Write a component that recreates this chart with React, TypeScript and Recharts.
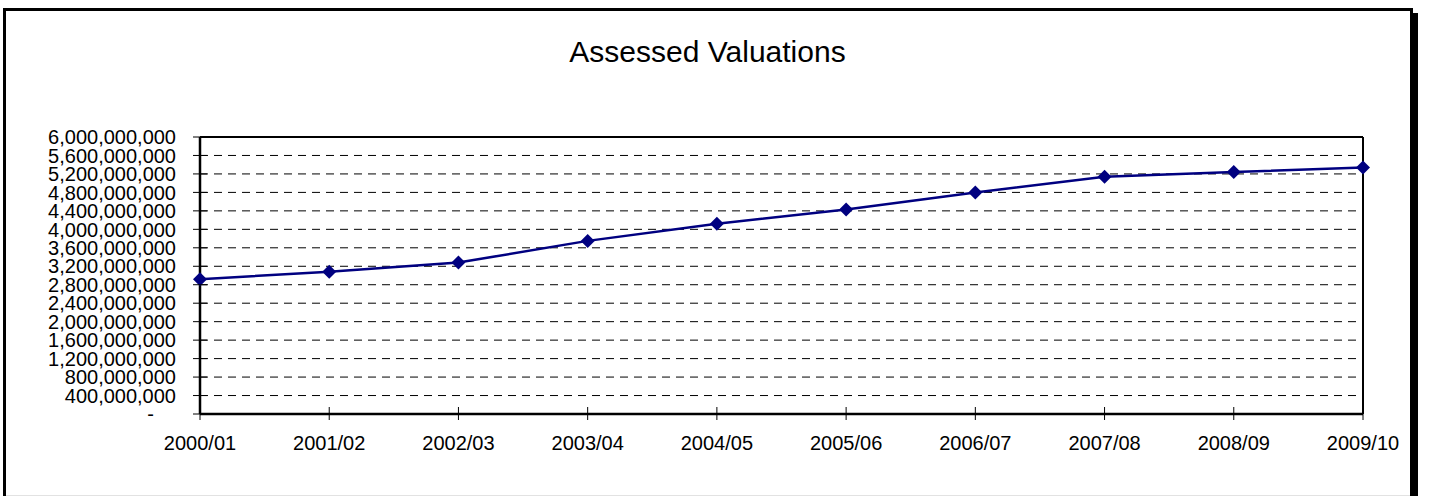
import React from 'react'
import { LineChart, Line, XAxis, YAxis, CartesianGrid, ReferenceLine } from 'recharts'

const years = ['2000/01', '2001/02', '2002/03', '2003/04', '2004/05', '2005/06', '2006/07', '2007/08', '2008/09', '2009/10']
const valuations = [2920000000, 3080000000, 3280000000, 3750000000, 4120000000, 4430000000, 4800000000, 5140000000, 5240000000, 5340000000]
const yTicks = [0, 400000000, 800000000, 1200000000, 1600000000, 2000000000, 2400000000, 2800000000, 3200000000, 3600000000, 4000000000, 4400000000, 4800000000, 5200000000, 5600000000, 6000000000]

const data = years.map((y, i) => ({ year: y, value: valuations[i] }))

const FONT = "Arial, 'Liberation Sans', sans-serif"
const NAVY = '#000080'

const fmt = (v: number) => (v === 0 ? '-' : v.toLocaleString('en-US'))

function YTick(props: any) {
  const { x, y, payload } = props
  const zero = payload.value === 0
  return (
    <g>
      <line x1={x - 7} x2={x + 7} y1={y} y2={y} stroke="#000" strokeWidth={1} />
      <text x={zero ? x - 46 : x - 24} y={y} dy="0.36em" textAnchor="end" fontSize={20} fontFamily={FONT} fill="#000">
        {fmt(payload.value)}
      </text>
    </g>
  )
}

function XTick(props: any) {
  const { x, y, payload } = props
  return (
    <g>
      <line x1={x} x2={x} y1={y - 7} y2={y + 6} stroke="#000" strokeWidth={1} />
      <text x={x} y={y + 36} textAnchor="middle" fontSize={20} fontFamily={FONT} fill="#000">
        {payload.value}
      </text>
    </g>
  )
}

function Diamond(props: any) {
  const { cx, cy } = props
  if (cx == null || cy == null) return null
  const r = 7
  return <polygon points={`${cx},${cy - r} ${cx + r},${cy} ${cx},${cy + r} ${cx - r},${cy}`} fill={NAVY} />
}

export default function App() {
  return (
    <div style={{ position: 'fixed', left: 0, top: 0, width: 1429, height: 496, overflow: 'hidden', background: '#fff' }}>
      {/* outer frame with shadow */}
      <div style={{
        position: 'absolute', left: 3, top: 8, width: 1410, height: 600,
        boxSizing: 'border-box', border: '3px solid #000', boxShadow: '5px 5px 0 #000', background: '#fff',
      }} />
      <div style={{ position: 'absolute', left: 6, top: 495, width: 1404, height: 1, background: '#e2e2e2' }} />

      <div style={{
        position: 'absolute', left: 0, top: 37, width: 1415, textAlign: 'center',
        fontFamily: FONT, fontSize: 30, lineHeight: '30px', color: '#000',
      }}>
        Assessed Valuations
      </div>

      <div style={{ position: 'absolute', left: 0, top: 0 }}>
        <LineChart width={1429} height={496} data={data} margin={{ top: 137, right: 66, bottom: 0, left: 0 }}>
          <CartesianGrid vertical={false} stroke="#000" strokeDasharray="8 6" />
          <XAxis
            dataKey="year"
            height={82}
            tickSize={0}
            tickMargin={0}
            tick={<XTick />}
            axisLine={{ stroke: '#000', strokeWidth: 2.5 }}
            tickLine={false}
            interval={0}
          />
          <YAxis
            type="number"
            domain={[0, 6000000000]}
            ticks={yTicks}
            width={200}
            tickSize={0}
            tickMargin={0}
            tick={<YTick />}
            axisLine={{ stroke: '#000', strokeWidth: 2.5 }}
            tickLine={false}
            interval={0}
          />
          <ReferenceLine y={6000000000} stroke="#000" strokeWidth={2} />
          <ReferenceLine x="2009/10" stroke="#000" strokeWidth={2} />
          <Line
            type="linear"
            dataKey="value"
            stroke={NAVY}
            strokeWidth={2.5}
            dot={<Diamond />}
            activeDot={false}
            isAnimationActive={false}
          />
        </LineChart>
      </div>
    </div>
  )
}
